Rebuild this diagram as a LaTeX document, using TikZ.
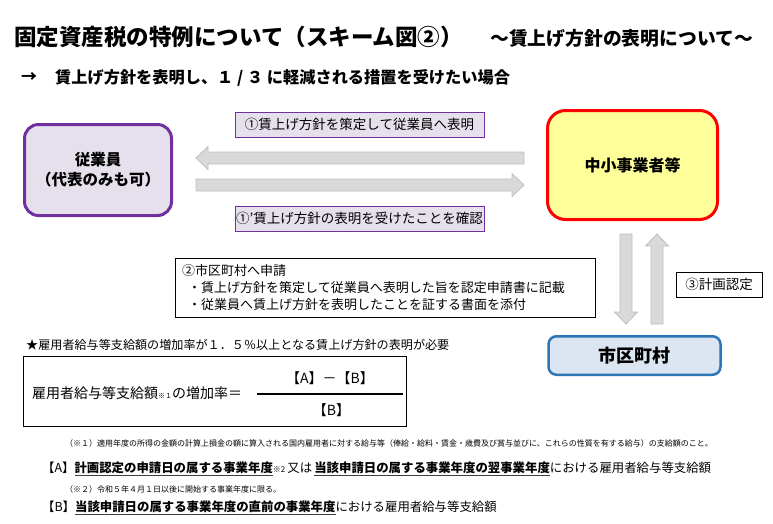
\documentclass[tikz,border=0pt]{standalone}
\usepackage{fontspec}
\setmainfont{Noto Sans CJK JP}
\definecolor{purp}{HTML}{7030A0}
\definecolor{lav}{HTML}{E6E0EC}
\definecolor{yel}{HTML}{FFFF99}
\definecolor{rd}{HTML}{FF0000}
\definecolor{bluefill}{HTML}{DCE6F2}
\definecolor{blueline}{HTML}{2E75B6}
\definecolor{arrfill}{HTML}{D9D9D9}
\definecolor{arrline}{HTML}{BFBFBF}
\definecolor{ulgray}{HTML}{404040}
\newcommand{\fs}[1]{\fontsize{#1}{#1}\selectfont}
\newcommand{\myul}[1]{\setbox0\hbox{#1}\leavevmode\rlap{\textcolor{ulgray}{\rule[-3pt]{\wd0}{1.3pt}}}\box0}
\tikzset{
  txt/.style={anchor=west, inner sep=0pt},
  lbl/.style={draw=purp, fill=lav, line width=1pt, minimum width=249pt, minimum height=25pt, inner sep=0pt, font=\fs{13.5}},
  plainbox/.style={draw=black, fill=white, line width=1pt, inner sep=0pt},
  blk/.style={draw=arrline, fill=arrfill, line width=0.8pt, line join=miter},
}
\begin{document}
\begin{tikzpicture}[x=1pt,y=-1pt]
\useasboundingbox (0,0) rectangle (773,523);
\fill[white] (0,0) rectangle (773,523);

% title lines
\node[txt] (title) at (14,37) {\fs{22.5}\bfseries 固定資産税の特例について（スキーム図②）};
\node[txt] (sub) at (490,38) {\fs{18.8}\bfseries ～賃上げ方針の表明について～};
\node[txt] (arrsym) at (21,78) {\fs{16}\bfseries →};
\node[txt] (case) at (55,78) {\fs{16.2}\bfseries 賃上げ方針を表明し、１ / ３ に軽減される措置を受けたい場合};

% main boxes
\node[draw=purp, fill=lav, line width=3pt, rounded corners=14pt, minimum width=147pt, minimum height=91pt, align=center, inner sep=0pt, font=\fontsize{15.5}{20}\selectfont\bfseries] (emp) at (98,170) {従業員\\（代表のみも可）};
\node[draw=rd, fill=yel, line width=3pt, rounded corners=18pt, minimum width=170pt, minimum height=109pt, inner sep=0pt, font=\fs{16}\bfseries] (sme) at (632.5,165) {中小事業者等};
\node[draw=blueline, fill=bluefill, line width=2.5pt, rounded corners=8pt, minimum width=172pt, minimum height=38.5pt, inner sep=0pt, font=\fs{18}\bfseries] (city) at (634.5,355.5) {市区町村};

% labels
\node[lbl] (l1) at (359.5,124.5) {①賃上げ方針を策定して従業員へ表明};
\node[lbl] (l1b) at (359.5,218.5) {①'賃上げ方針の表明を受けたことを確認};

% block arrows
\draw[blk] (524,152) -- (208,152) -- (208,146.5) -- (196,158) -- (208,169.5) -- (208,164) -- (524,164) -- cycle;
\draw[blk] (196,179) -- (512,179) -- (512,173.5) -- (524,185) -- (512,196.5) -- (512,191) -- (196,191) -- cycle;
\draw[blk] (620,234) -- (632,234) -- (632,312) -- (637.5,312) -- (626,324) -- (614.5,312) -- (620,312) -- cycle;
\draw[blk] (651,324) -- (651,246) -- (645.5,246) -- (657,234) -- (668.5,246) -- (663,246) -- (663,324) -- cycle;

% step 3 label
\node[plainbox, minimum width=86pt, minimum height=25pt, font=\fs{13.5}] (l3) at (719,284.5) {③計画認定};

% step 2 box
\node[plainbox, minimum width=420pt, minimum height=59pt] (box2) at (385,287.5) {};
\node[txt, font=\fs{13}] (s2a) at (182,271) {②市区町村へ申請};
\node[txt, font=\fs{13}] (s2b) at (188,288) {・賃上げ方針を策定して従業員へ表明した旨を認定申請書に記載};
\node[txt, font=\fs{13}] (s2c) at (188,305) {・従業員へ賃上げ方針を表明したことを証する書面を添付};

% star note
\node[txt, font=\fs{12.1}] (star) at (26,345) {★雇用者給与等支給額の増加率が１．５％以上となる賃上げ方針の表明が必要};

% formula
\node[draw=black, line width=1.5pt, minimum width=383pt, minimum height=70pt, inner sep=0pt] (fbox) at (215,391.5) {};
\node[txt, font=\fs{14}] (lhs) at (32,393) {雇用者給与等支給額{\fs{7}※１}の増加率＝};
\coordinate (fl1) at (257,394);
\coordinate (fl2) at (403,394);
\draw[line width=1.2pt] (fl1) -- (fl2);
\node[inner sep=0pt, font=\fs{14}] (num) at (330,378) {【A】－【B】};
\node[inner sep=0pt, font=\fs{14}] (den) at (331.5,410) {【B】};

% notes
\node[txt, font=\fs{8}] (n1) at (65,443) {（※１）適用年度の所得の金額の計算上損金の額に算入される国内雇用者に対する給与等（俸給・給料・賃金・歳費及び賞与並びに、これらの性質を有する給与）の支給額のこと。};
\node[txt, font=\fs{12.4}] (lA) at (42,469) {【A】\myul{\bfseries 計画認定の申請日の属する事業年度}{\fs{8}※2}\,又は\,\myul{\bfseries 当該申請日の属する事業年度の翌事業年度}における雇用者給与等支給額};
\node[txt, font=\fs{8}] (n2) at (65,489) {（※２）令和５年４月１日以後に開始する事業年度に限る。};
\node[txt, font=\fs{12.4}] (lB) at (42,508) {【B】\myul{\bfseries 当該申請日の属する事業年度の直前の事業年度}における雇用者給与等支給額};
\end{tikzpicture}
\end{document}
